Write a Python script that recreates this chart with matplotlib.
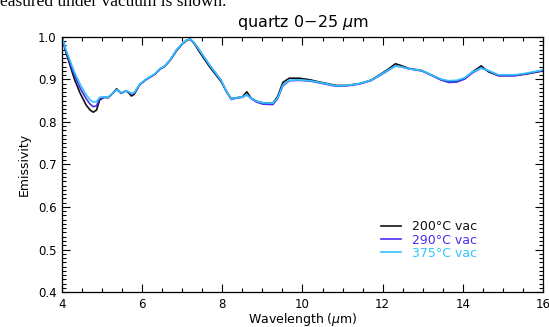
import numpy as np
import matplotlib
matplotlib.use('Agg')
import matplotlib.pyplot as plt
from matplotlib.ticker import MultipleLocator

plt.rcParams['font.family'] = ['DejaVu Sans']

# wavelength grid (um), shared by all three runs
wavelength = [4.0, 4.08, 4.16, 4.25, 4.32, 4.45, 4.6, 4.7, 4.78, 4.86, 4.94,
              5.05, 5.15, 5.25, 5.36, 5.47, 5.6, 5.67, 5.73, 5.8, 5.94, 6.1,
              6.31, 6.45, 6.55, 6.7, 6.86, 7.0, 7.1, 7.2, 7.3, 7.45, 7.68,
              7.97, 8.1, 8.22, 8.35, 8.5, 8.61, 8.72, 8.85, 9.01, 9.26, 9.38,
              9.51, 9.67, 9.92, 10.2, 10.42, 10.83, 11.1, 11.41, 11.7, 11.91,
              12.15, 12.32, 12.45, 12.65, 12.98, 13.23, 13.45, 13.65, 13.85,
              14.05, 14.23, 14.46, 14.64, 14.89, 15.3, 15.6, 15.93, 16.0]

emis_200 = [1.0, 0.970, 0.945, 0.918, 0.898, 0.868, 0.840, 0.828, 0.823, 0.828, 0.852,
            0.858, 0.857, 0.866, 0.878, 0.868, 0.873, 0.868, 0.861, 0.865, 0.888, 0.900,
            0.912, 0.925, 0.930, 0.945, 0.968, 0.983, 0.991, 0.995, 0.984, 0.962, 0.930,
            0.895, 0.872, 0.855, 0.857, 0.859, 0.871, 0.856, 0.849, 0.845, 0.844, 0.860,
            0.893, 0.903, 0.903, 0.899, 0.894, 0.886, 0.886, 0.890, 0.898, 0.910,
            0.925, 0.937, 0.933, 0.926, 0.921, 0.910, 0.900, 0.895, 0.896,
            0.903, 0.917, 0.932, 0.918, 0.909, 0.909, 0.913, 0.919, 0.920]

emis_290 = [1.0, 0.972, 0.950, 0.925, 0.908, 0.880, 0.855, 0.842, 0.836, 0.838, 0.855,
            0.858, 0.858, 0.866, 0.876, 0.868, 0.873, 0.870, 0.866, 0.868, 0.888, 0.900,
            0.912, 0.925, 0.930, 0.946, 0.970, 0.984, 0.992, 0.995, 0.986, 0.966, 0.934,
            0.898, 0.872, 0.853, 0.856, 0.858, 0.864, 0.855, 0.847, 0.842, 0.841, 0.855,
            0.885, 0.897, 0.898, 0.896, 0.892, 0.884, 0.885, 0.889, 0.897, 0.908,
            0.922, 0.932, 0.930, 0.925, 0.920, 0.909, 0.899, 0.893, 0.894,
            0.901, 0.915, 0.927, 0.920, 0.909, 0.909, 0.914, 0.920, 0.921]

emis_375 = [1.0, 0.975, 0.955, 0.932, 0.915, 0.889, 0.864, 0.852, 0.847, 0.848, 0.858,
            0.859, 0.858, 0.866, 0.876, 0.869, 0.873, 0.871, 0.867, 0.869, 0.889, 0.901,
            0.913, 0.926, 0.931, 0.946, 0.970, 0.984, 0.992, 0.995, 0.986, 0.966, 0.934,
            0.898, 0.873, 0.854, 0.857, 0.859, 0.864, 0.856, 0.849, 0.845, 0.844, 0.857,
            0.887, 0.898, 0.899, 0.897, 0.893, 0.885, 0.886, 0.890, 0.898, 0.909,
            0.923, 0.932, 0.930, 0.925, 0.921, 0.910, 0.901, 0.897, 0.898,
            0.904, 0.917, 0.927, 0.921, 0.911, 0.911, 0.915, 0.921, 0.923]

labels = ['200\u00b0C vac', '290\u00b0C vac', '375\u00b0C vac']
colours = ['#111111', '#4a2cf0', '#30c4ff']

fig = plt.figure(figsize=(5.49, 3.27), dpi=100)
ax = fig.add_axes((0.113, 0.107, 0.876, 0.780))

for emis, lab, col in zip([emis_200, emis_290, emis_375], labels, colours):
    ax.plot(wavelength, emis, color=col, lw=1.2, label=lab)

ax.set_xlim(4, 16)
ax.set_ylim(0.4, 1.0)
ax.xaxis.set_major_locator(MultipleLocator(2))
ax.xaxis.set_minor_locator(MultipleLocator(0.5))
ax.yaxis.set_major_locator(MultipleLocator(0.1))
ax.yaxis.set_minor_locator(MultipleLocator(0.01))
ax.yaxis.set_major_formatter(plt.FormatStrFormatter('%.1f'))
ax.tick_params(which='both', direction='in', top=True, right=True,
               labelsize=8.5, width=0.8, pad=4)
ax.tick_params(which='major', length=6)
ax.tick_params(which='minor', length=3)
for s in ax.spines.values():
    s.set_linewidth(0.9)

ax.set_title('quartz 0\u221225 $\\mu$m', fontsize=11.5, pad=7)
ax.set_xlabel('Wavelength ($\\mu$m)', fontsize=9, labelpad=0.5)
ax.set_ylabel('Emissivity', fontsize=9, labelpad=5)

leg = ax.legend(loc='upper left', bbox_to_anchor=(0.64, 0.325), frameon=False,
                fontsize=9, handlelength=1.6, handletextpad=0.9,
                labelspacing=0.02, labelcolor='linecolor')

# clipped caption text from the surrounding page
fig.text(0.0, 1 - 6 / 327, 'easured under vacuum is shown.', fontsize=12.5,
         family=['Liberation Serif', 'DejaVu Serif'], va='baseline', ha='left')

fig.savefig('out.png', dpi=100)
